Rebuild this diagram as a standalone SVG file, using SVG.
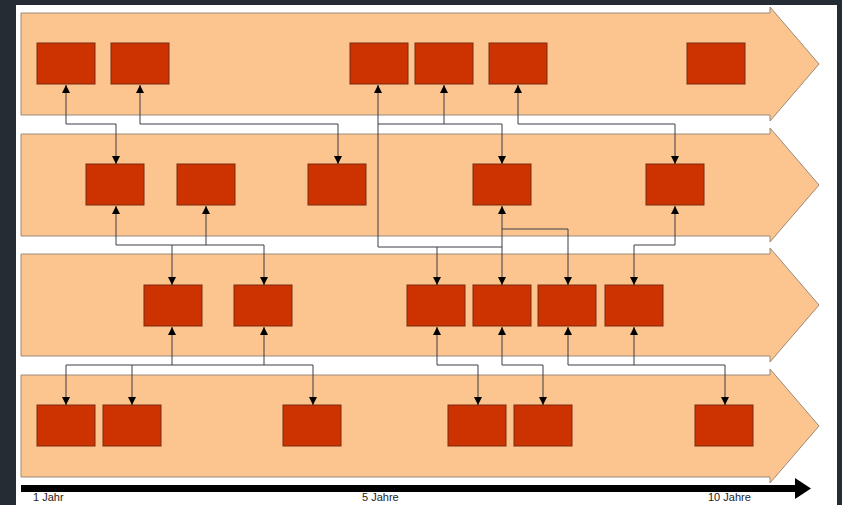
<svg xmlns="http://www.w3.org/2000/svg" width="842" height="505" viewBox="0 0 842 505">
  <defs>
    <style>
      .band { fill: #fcc48e; stroke: #9c8a78; stroke-width: 1; }
      .box { fill: #cc3300; stroke: #7a2a10; stroke-width: 1; }
      .ln { fill: none; stroke: #3c3f48; stroke-width: 1; }
      .lbl { font-family: "Liberation Sans", Arial, sans-serif; font-size: 11px; fill: #222; }
    </style>
    <marker id="ah" viewBox="0 0 8 8" refX="8" refY="4" markerWidth="8" markerHeight="8" markerUnits="userSpaceOnUse" orient="auto-start-reverse">
      <path d="M0,0 L8,4 L0,8 z" fill="#000"/>
    </marker>
  </defs>

  <!-- frame -->
  <rect x="0" y="0" width="842" height="505" fill="#262c33"/>
  <rect x="16" y="5" width="821" height="500" fill="#ffffff"/>

  <!-- bands -->
  <g id="bands">
    <path class="band" d="M21,13 H770 V7 L819,64 L770,121 V115 H21 Z"/>
    <path class="band" d="M21,134 H770 V128 L819,185 L770,242 V236 H21 Z"/>
    <path class="band" d="M21,254 H770 V248 L819,305 L770,362 V356 H21 Z"/>
    <path class="band" d="M21,375 H770 V369 L819,426 L770,483 V477 H21 Z"/>
  </g>

  <!-- row 1 -->
  <g id="b1"><rect class="box" x="37" y="43" width="58" height="41"/></g>
  <g id="b2"><rect class="box" x="111" y="43" width="58" height="41"/></g>
  <g id="b3"><rect class="box" x="350" y="43" width="58" height="41"/></g>
  <g id="b4"><rect class="box" x="415" y="43" width="58" height="41"/></g>
  <g id="b5"><rect class="box" x="489" y="43" width="58" height="41"/></g>
  <g id="b6"><rect class="box" x="687" y="43" width="58" height="41"/></g>

  <!-- row 2 -->
  <g id="c1"><rect class="box" x="86" y="164" width="58" height="41"/></g>
  <g id="c2"><rect class="box" x="177" y="164" width="58" height="41"/></g>
  <g id="c3"><rect class="box" x="308" y="164" width="58" height="41"/></g>
  <g id="c4"><rect class="box" x="473" y="164" width="58" height="41"/></g>
  <g id="c5"><rect class="box" x="646" y="164" width="58" height="41"/></g>

  <!-- row 3 -->
  <g id="d1"><rect class="box" x="144" y="285" width="58" height="41"/></g>
  <g id="d2"><rect class="box" x="234" y="285" width="58" height="41"/></g>
  <g id="d3"><rect class="box" x="407" y="285" width="58" height="41"/></g>
  <g id="d4"><rect class="box" x="473" y="285" width="58" height="41"/></g>
  <g id="d5"><rect class="box" x="538" y="285" width="58" height="41"/></g>
  <g id="d6"><rect class="box" x="605" y="285" width="58" height="41"/></g>

  <!-- row 4 -->
  <g id="e1"><rect class="box" x="37" y="405" width="58" height="41"/></g>
  <g id="e2"><rect class="box" x="103" y="405" width="58" height="41"/></g>
  <g id="e3"><rect class="box" x="283" y="405" width="58" height="41"/></g>
  <g id="e4"><rect class="box" x="448" y="405" width="58" height="41"/></g>
  <g id="e5"><rect class="box" x="514" y="405" width="58" height="41"/></g>
  <g id="e6"><rect class="box" x="695" y="405" width="58" height="41"/></g>

  <!-- connectors -->
  <g id="connectors">
    <!-- row1 - row2 -->
    <path class="ln" d="M66,85 V124 H116 V164" marker-start="url(#ah)" marker-end="url(#ah)"/>
    <path class="ln" d="M140,85 V124 H338 V164" marker-start="url(#ah)" marker-end="url(#ah)"/>
    <path class="ln" d="M378,124 H502 V164" marker-end="url(#ah)"/>
    <path class="ln" d="M444,124 V85" marker-end="url(#ah)"/>
    <path class="ln" d="M378,247 V85" marker-end="url(#ah)"/>
    <path class="ln" d="M518,85 V124 H675 V164" marker-start="url(#ah)" marker-end="url(#ah)"/>

    <!-- row2 - row3 -->
    <path class="ln" d="M116,245 H264 V285" marker-end="url(#ah)"/>
    <path class="ln" d="M116,245 V206" marker-end="url(#ah)"/>
    <path class="ln" d="M206,245 V206" marker-end="url(#ah)"/>
    <path class="ln" d="M172,245 V285" marker-end="url(#ah)"/>
    <path class="ln" d="M502,206 V285" marker-start="url(#ah)" marker-end="url(#ah)"/>
    <path class="ln" d="M502,229 H568 V285" marker-end="url(#ah)"/>
    <path class="ln" d="M378,247 H502"/>
    <path class="ln" d="M437,247 V285" marker-end="url(#ah)"/>
    <path class="ln" d="M675,206 V245 H634 V285" marker-start="url(#ah)" marker-end="url(#ah)"/>

    <!-- row3 - row4 -->
    <path class="ln" d="M66,405 V365 H313 V405" marker-start="url(#ah)" marker-end="url(#ah)"/>
    <path class="ln" d="M172,365 V327" marker-end="url(#ah)"/>
    <path class="ln" d="M264,365 V327" marker-end="url(#ah)"/>
    <path class="ln" d="M132,365 V405" marker-end="url(#ah)"/>
    <path class="ln" d="M437,327 V365 H478 V405" marker-start="url(#ah)" marker-end="url(#ah)"/>
    <path class="ln" d="M502,327 V365 H543 V405" marker-start="url(#ah)" marker-end="url(#ah)"/>
    <path class="ln" d="M568,327 V365 H725 V405" marker-start="url(#ah)" marker-end="url(#ah)"/>
    <path class="ln" d="M634,365 V327" marker-end="url(#ah)"/>
  </g>

  <!-- time axis -->
  <g id="timeline">
    <rect x="21" y="485" width="776" height="7" fill="#000"/>
    <path d="M795,478 L811,488.5 L795,499 Z" fill="#000"/>
    <text class="lbl" x="33" y="501">1 Jahr</text>
    <text class="lbl" x="362" y="501">5 Jahre</text>
    <text class="lbl" x="708" y="501">10 Jahre</text>
  </g>
</svg>
